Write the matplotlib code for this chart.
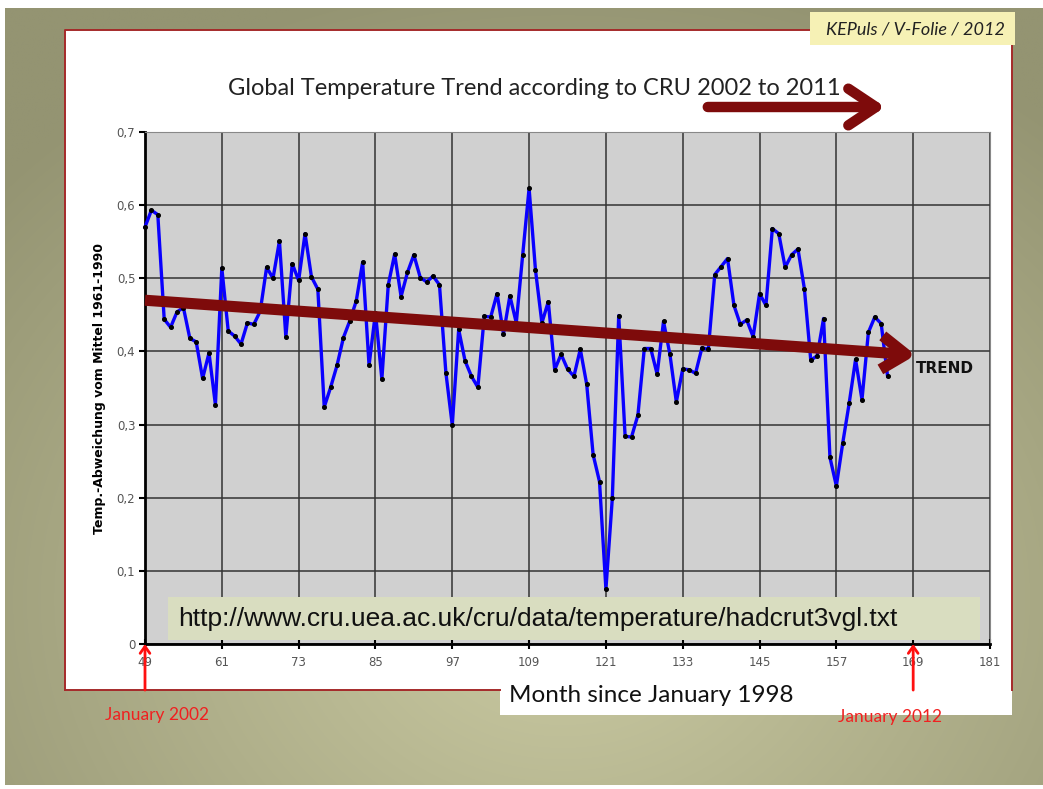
import numpy as np
import matplotlib
matplotlib.use("Agg")
import matplotlib.pyplot as plt
from matplotlib.patches import Rectangle

# ---------------- data ----------------
months = list(range(49, 166))
anomaly = [
    0.570, 0.593, 0.587, 0.444, 0.433, 0.454, 0.460, 0.418, 0.413, 0.363,
    0.398, 0.327, 0.514, 0.428, 0.421, 0.410, 0.439, 0.437, 0.455, 0.515,
    0.500, 0.551, 0.420, 0.520, 0.497, 0.561, 0.502, 0.485, 0.324, 0.351,
    0.381, 0.419, 0.442, 0.469, 0.522, 0.381, 0.453, 0.362, 0.491, 0.533,
    0.475, 0.508, 0.532, 0.501, 0.495, 0.503, 0.491, 0.371, 0.299, 0.430,
    0.387, 0.366, 0.351, 0.448, 0.447, 0.479, 0.424, 0.476, 0.439, 0.532,
    0.623, 0.511, 0.439, 0.468, 0.375, 0.396, 0.376, 0.366, 0.403, 0.355,
    0.259, 0.222, 0.075, 0.199, 0.449, 0.284, 0.283, 0.313, 0.404, 0.404,
    0.369, 0.441, 0.396, 0.331, 0.376, 0.375, 0.370, 0.405, 0.403, 0.505,
    0.516, 0.527, 0.463, 0.437, 0.443, 0.420, 0.479, 0.463, 0.568, 0.561,
    0.515, 0.532, 0.540, 0.486, 0.388, 0.394, 0.445, 0.255, 0.216, 0.275,
    0.329, 0.389, 0.334, 0.426, 0.447, 0.438, 0.366,
]
x_ticks = list(range(49, 182, 12))
y_ticks = [0, 0.1, 0.2, 0.3, 0.4, 0.5, 0.6, 0.7]
y_tick_labels = ["0", "0,1", "0,2", "0,3", "0,4", "0,5", "0,6", "0,7"]
trend_months = [49, 169.4]
trend_values = [0.470, 0.395]
marker_months = [49, 169]

title = "Global Temperature Trend according to CRU 2002 to 2011"
ylabel = "Temp.-Abweichung vom Mittel 1961-1990"
xlabel = "Month since January 1998"
url = "http://www.cru.uea.ac.uk/cru/data/temperature/hadcrut3vgl.txt"
credit = "KEPuls / V-Folie / 2012"
marker_labels = ["January 2002", "January 2012"]

W, H = 1043, 789
fig = plt.figure(figsize=(W / 100, H / 100), dpi=100)
fig.patch.set_facecolor("white")

# background (pixel coordinates)
bg = fig.add_axes([0, 0, 1, 1], zorder=0)
bg.set_xlim(0, W)
bg.set_ylim(H, 0)
bg.axis("off")
yy, xx = np.mgrid[0:H:2, 0:W:2]
r = np.sqrt(((xx - 560) / 760.0) ** 2 + ((yy - 600) / 640.0) ** 2)
r = np.clip(r, 0, 1)
c_in = np.array([203, 203, 163]) / 255.0
c_out = np.array([148, 148, 114]) / 255.0
img = c_in[None, None, :] * (1 - r[..., None]) + c_out[None, None, :] * r[..., None]
bg.imshow(img, extent=[5, W, 785, 8], aspect="auto", zorder=0, interpolation="bilinear")

dark_red = "#7e0b0b"
border_red = "#a52a2a"
# white slide panel
bg.add_patch(Rectangle((65, 30), 947, 660, facecolor="white", edgecolor="none", zorder=1))
bg.add_patch(Rectangle((500, 670), 512, 45, facecolor="white", edgecolor="none", zorder=1))
bg.plot([65, 65, 812], [690, 30, 30], color=border_red, lw=1.4, zorder=2)
bg.plot([65, 500], [690, 690], color=border_red, lw=1.4, zorder=2)
bg.plot([1012, 1012], [45, 690], color=border_red, lw=1.4, zorder=2)
# credit box
bg.add_patch(Rectangle((810, 12), 205, 33, facecolor="#f6f1b5", edgecolor="none", zorder=3))
bg.text(915, 29, credit, fontsize=13, style="italic", family="Lato",
        ha="center", va="center", color="#222222", zorder=4)

# title + decorative arrow
bg.text(534, 88, title, fontsize=17, family="Lato", ha="center", va="center",
        color="#222222", zorder=4)
bg.annotate("", xy=(888, 107), xytext=(705, 107),
            arrowprops=dict(arrowstyle="->,head_length=0.9,head_width=0.6",
                            color=dark_red, lw=7.5, capstyle="round",
                            joinstyle="round", mutation_scale=22),
            zorder=4)

# x label
bg.text(651, 695, xlabel, fontsize=17.5, family="Lato", ha="center", va="center",
        color="#111111", zorder=4)

# ---------------- main axes ----------------
ax = fig.add_axes([145 / W, 1 - 644 / H, 845 / W, 512 / H], zorder=5)
ax.set_facecolor("#d0d0d0")
ax.set_xlim(49, 181)
ax.set_ylim(0, 0.7)
ax.set_xticks(x_ticks)
ax.set_yticks(y_ticks)
ax.set_yticklabels(y_tick_labels)
ax.grid(True, color="#333333", lw=1.1)
ax.set_axisbelow(True)
ax.tick_params(axis="y", direction="out", length=4, width=1.5, labelsize=8.5,
               labelcolor="#555555", pad=3)
ax.tick_params(axis="x", direction="inout", length=7, width=1.5, labelsize=8.5,
               labelcolor="#555555", pad=5)
for s in ["left", "bottom"]:
    ax.spines[s].set_color("black")
    ax.spines[s].set_linewidth(2)
for s in ["top", "right"]:
    ax.spines[s].set_color("#888888")
    ax.spines[s].set_linewidth(0.8)
for lab in ax.get_xticklabels() + ax.get_yticklabels():
    lab.set_family("DejaVu Sans")

ax.set_ylabel(ylabel, fontsize=9, fontweight="bold", family="DejaVu Sans", labelpad=8)

# url box inside axes
ax.add_patch(Rectangle((0.027, 0.008), 0.961, 0.084, transform=ax.transAxes,
                       facecolor="#d9ddc0", edgecolor="none", zorder=2))
ax.text(0.039, 0.048, url, transform=ax.transAxes, fontsize=19, family="Liberation Sans",
        ha="left", va="center", color="#111111", zorder=3)

ax.plot(months, anomaly, color="#0a00ff", lw=2.4, zorder=4, clip_on=False)
ax.plot(months, anomaly, "o", color="black", ms=2.6, zorder=5, clip_on=False)

ax.annotate("", xy=(trend_months[1], trend_values[1]), xytext=(trend_months[0], trend_values[0]),
            arrowprops=dict(arrowstyle="->,head_length=0.8,head_width=0.55",
                            color=dark_red, lw=8, capstyle="butt",
                            joinstyle="round", mutation_scale=22, shrinkA=0, shrinkB=0),
            zorder=6)
ax.text(169.4, 0.377, "TREND", fontsize=11, fontweight="bold", family="DejaVu Sans",
        ha="left", va="center", color="#111111", zorder=6)

# red markers below axis
for m in marker_months:
    ax.annotate("", xy=(m, 0), xycoords="data", xytext=(m, -0.063),
                textcoords="data",
                arrowprops=dict(arrowstyle="->,head_length=0.5,head_width=0.35",
                                color="#ff1010", lw=2, shrinkA=0, shrinkB=0),
                annotation_clip=False, zorder=7)

bg.text(157, 715, marker_labels[0], fontsize=12.5, family="Lato", ha="center",
        va="center", color="#f02020", zorder=4)
bg.text(890, 717, marker_labels[1], fontsize=12.5, family="Lato", ha="center",
        va="center", color="#f02020", zorder=4)

fig.savefig("out.png", dpi=100)
